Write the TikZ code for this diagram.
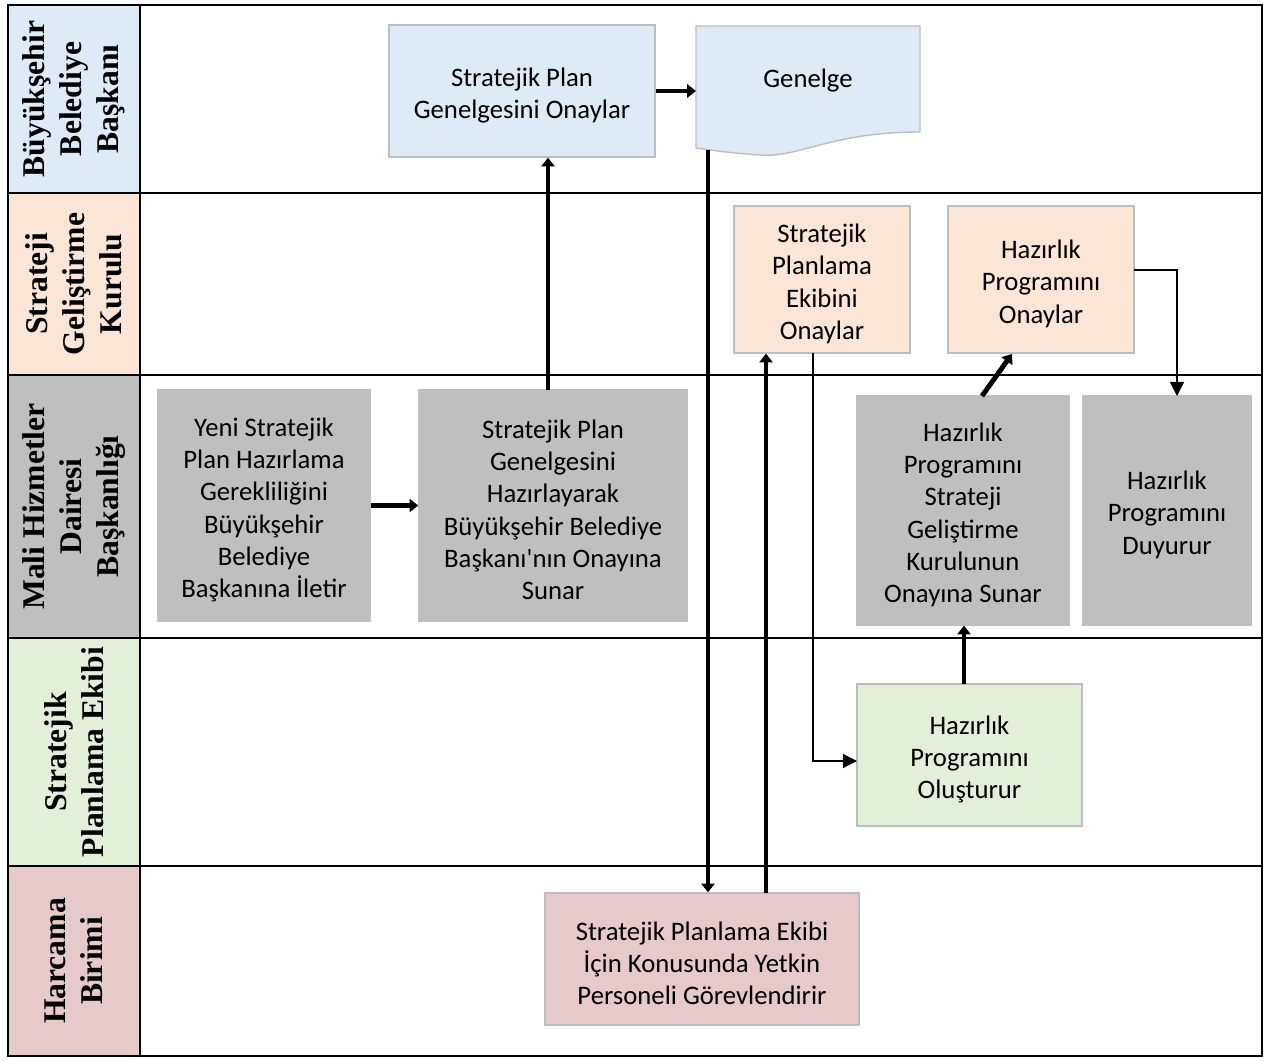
\documentclass[tikz,border=0pt]{standalone}
\usepackage{fontspec}
\setmainfont{Carlito}
\newfontfamily\lanefam{Liberation Serif}
\usetikzlibrary{arrows.meta,fit,calc}
\definecolor{cblue}{HTML}{DEEBF7}
\definecolor{cpeach}{HTML}{FBE5D6}
\definecolor{cgray}{HTML}{BFBFBF}
\definecolor{cgreen}{HTML}{E2F0D9}
\definecolor{cpink}{HTML}{E6C9C9}
\definecolor{cline}{HTML}{BDBDBD}
\newcommand\boxfnt{\fontsize{15.2}{18.4}\selectfont}
\newcommand\lanefnt{\lanefam\bfseries\fontsize{18}{21}\selectfont}
\newcommand\topst{\rule{0pt}{1.02em}}
\begin{document}
\begin{tikzpicture}[x=0.02cm,y=-0.02cm,
  box/.style={draw=cline, line width=0.8pt, inner sep=0pt, align=center, font=\boxfnt},
  graybox/.style={box, draw=cgray, fill=cgray},
  lanecell/.style={draw=black, line width=1.2pt, inner sep=0pt},
  lanetext/.style={rotate=90, font=\lanefnt, align=center, inner sep=0pt},
  fat/.style={line width=2.8pt, -{Triangle[length=5pt,width=7.5pt]}},
  slim/.style={line width=0.7pt, -{Triangle[length=8pt,width=8pt]}}]
\useasboundingbox (0,0) rectangle (1269,1061);
% lane label cells
\node[lanecell, fill=cblue,  fit={(8,5) (140,193)}]   (l1) {};
\node[lanecell, fill=cpeach, fit={(8,193) (140,375)}] (l2) {};
\node[lanecell, fill=cgray,  fit={(8,375) (140,638)}] (l3) {};
\node[lanecell, fill=cgreen, fit={(8,638) (140,866)}] (l4) {};
\node[lanecell, fill=cpink,  fit={(8,866) (140,1056)}] (l5) {};
\node[lanetext] (t1) at (l1) {Büyükşehir\\Belediye\\Başkanı};
\node[lanetext] (t2) at (l2) {Strateji\\Geliştirme\\Kurulu};
\node[lanetext] (t3) at (l3) {Mali Hizmetler\\Dairesi\\Başkanlığı};
\node[lanetext] (t4) at (l4) {Stratejik\\Planlama Ekibi};
\node[lanetext] (t5) at (l5) {Harcama\\Birimi};
% lane lines
\draw[line width=1.2pt] (8,5) rectangle (1262,1056);
\foreach \yy in {193,375,638,866} \draw[line width=1.2pt] (8,\yy) -- (1262,\yy);
% boxes
\node[box, fill=cblue, minimum width=5.32cm, minimum height=2.64cm] (a) at (522,91) {\topst Stratejik Plan\\Genelgesini Onaylar};
\fill[cblue] (696,26) -- (920,26) -- (920,132) .. controls (830,132) and (800,158) .. (760,155) .. controls (730,153) and (710,150) .. (696,148) -- cycle;
\draw[cline, line width=0.8pt] (696,26) -- (920,26) -- (920,132) .. controls (830,132) and (800,158) .. (760,155) .. controls (730,153) and (710,150) .. (696,148) -- cycle;
\node[inner sep=0pt, font=\boxfnt] (gen) at (808,81) {Genelge};
\node[box, fill=cpeach, minimum width=3.52cm, minimum height=2.94cm] (speo) at (822,279.5) {\topst Stratejik\\Planlama\\Ekibini\\Onaylar};
\node[box, fill=cpeach, minimum width=3.72cm, minimum height=2.94cm] (hpo) at (1041,279.5) {\topst Hazırlık\\Programını\\Onaylar};
\node[graybox, minimum width=4.24cm, minimum height=4.62cm] (yeni) at (264,505.5) {\topst Yeni Stratejik\\Plan Hazırlama\\Gerekliliğini\\Büyükşehir\\Belediye\\Başkanına İletir};
\node[graybox, minimum width=5.36cm, minimum height=4.62cm] (b2) at (553,505.5) {\topst Stratejik Plan\\Genelgesini\\Hazırlayarak\\Büyükşehir Belediye\\Başkanı\textquotesingle nın Onayına\\Sunar};
\node[graybox, minimum width=4.24cm, minimum height=4.58cm] (sunar) at (963,510.5) {\topst Hazırlık\\Programını\\Strateji\\Geliştirme\\Kurulunun\\Onayına Sunar};
\node[graybox, minimum width=3.36cm, minimum height=4.58cm] (duy) at (1167,510.5) {\topst Hazırlık\\Programını\\Duyurur};
\node[box, fill=cgreen, minimum width=4.5cm, minimum height=2.84cm] (olus) at (969.5,755) {\topst Hazırlık\\Programını\\Oluşturur};
\node[box, fill=cpink, minimum width=6.28cm, minimum height=2.64cm] (harc) at (702,959) {\topst Stratejik Planlama Ekibi\\İçin Konusunda Yetkin\\Personeli Görevlendirir};
% connector end points
\coordinate (gw) at (696,91);
\coordinate (g1) at (708,150);
\coordinate (h1) at (766,893);
\coordinate (b2t) at (548,390);
\coordinate (s1) at (813,353);
\coordinate (o1) at (964,684);
\coordinate (d1) at (982,396);
\coordinate (d2) at (1012,354);
\coordinate (e1) at (1134,270);
\coordinate (e2) at (1177,396);
\coordinate (ol) at (857,761);
% connectors
\draw[fat] (a.east) -- (gw);
\draw[fat] (g1) -- (g1 |- harc.north);
\draw[fat] (h1) -- (h1 |- speo.south);
\draw[fat] (b2t) -- (b2t |- a.south);
\draw[fat] (yeni.east) -- (b2.west);
\draw[slim] (s1) |- (ol);
\draw[fat] (o1) -- (o1 |- sunar.south);
\draw[fat] (d1) -- (d2);
\draw[slim] (e1) -| (e2);
\end{tikzpicture}
\end{document}
